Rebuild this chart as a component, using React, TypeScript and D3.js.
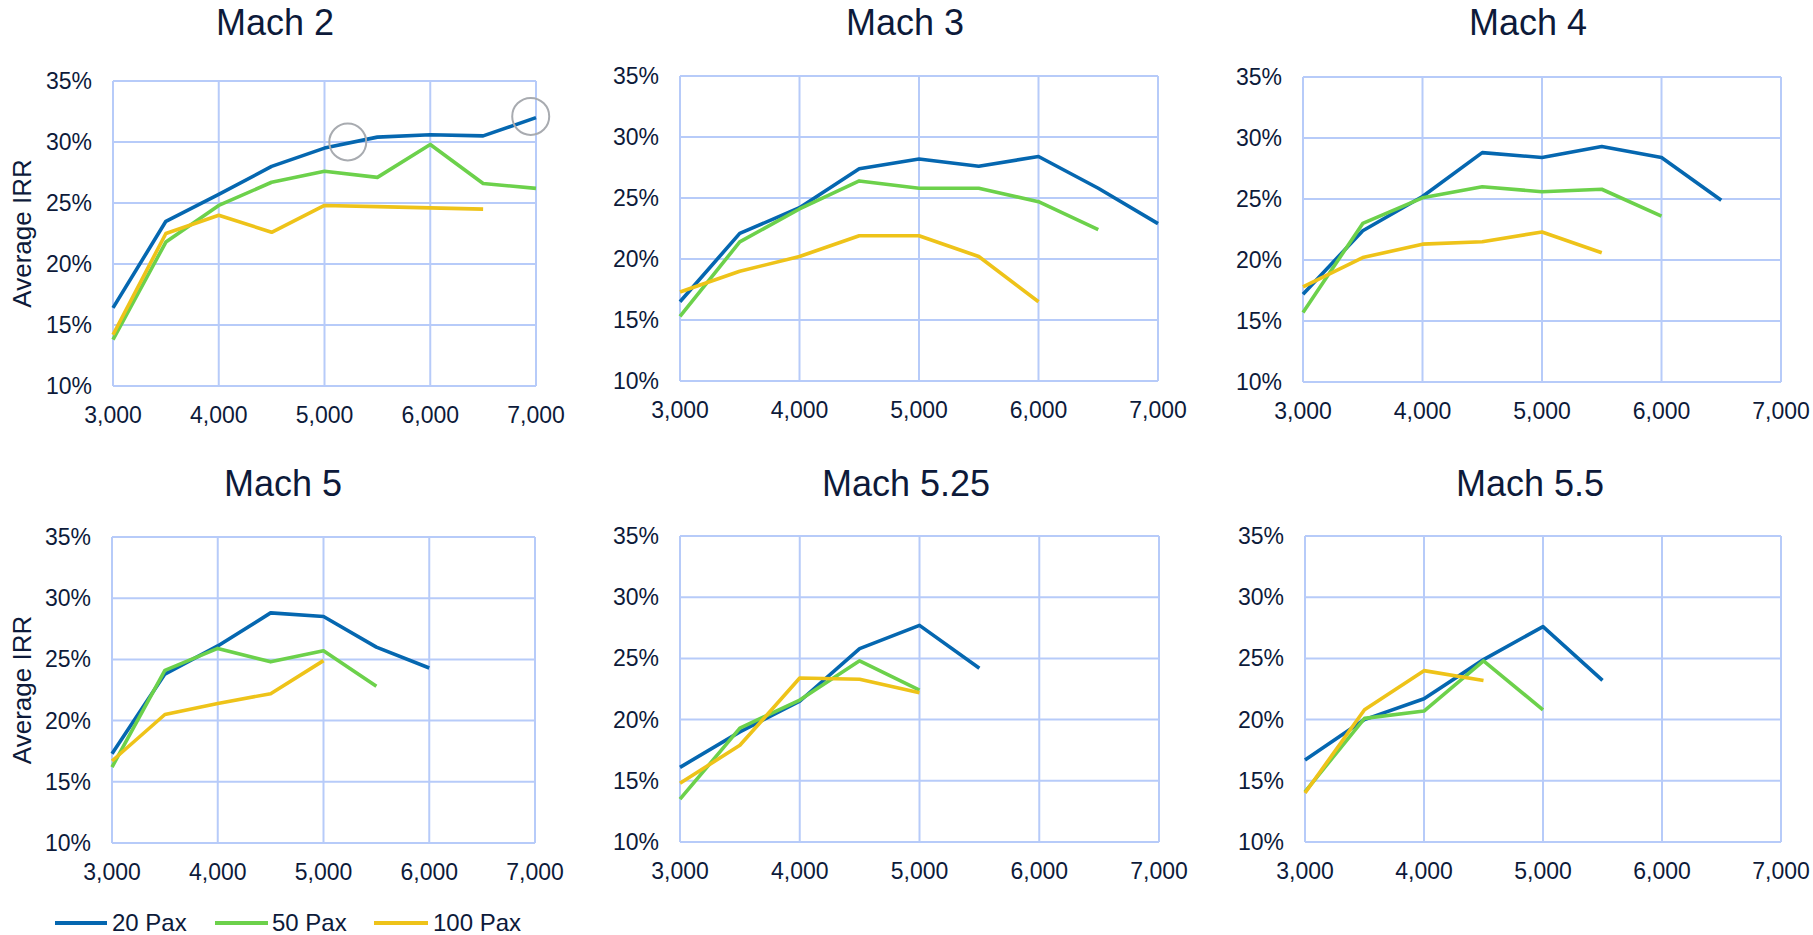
import React from "react";
import * as d3 from "d3";

// ---- data ----
const distances = [3000, 3500, 4000, 4500, 5000, 5500, 6000, 6500, 7000];
const xTicks = [3000, 4000, 5000, 6000, 7000];
const yTicks = [0.10, 0.15, 0.20, 0.25, 0.30, 0.35];
const seriesNames = ["20 Pax", "50 Pax", "100 Pax"];
const panelTitles = ["Mach 2", "Mach 3", "Mach 4", "Mach 5", "Mach 5.25", "Mach 5.5"];

const mach2_20 = [16.4, 23.5, 25.7, 28.0, 29.5, 30.4, 30.6, 30.5, 32.0];
const mach2_50 = [13.8, 21.8, 24.8, 26.7, 27.6, 27.1, 29.8, 26.6, 26.2];
const mach2_100 = [14.2, 22.5, 24.0, 22.6, 24.8, 24.7, 24.6, 24.5];

const mach3_20 = [16.5, 22.1, 24.2, 27.4, 28.2, 27.6, 28.4, 25.8, 22.9];
const mach3_50 = [15.3, 21.4, 24.1, 26.4, 25.8, 25.8, 24.7, 22.4];
const mach3_100 = [17.3, 19.0, 20.2, 21.9, 21.9, 20.2, 16.5];

const mach4_20 = [17.2, 22.4, 25.2, 28.8, 28.4, 29.3, 28.4, 24.9];
const mach4_50 = [15.7, 23.0, 25.1, 26.0, 25.6, 25.8, 23.6];
const mach4_100 = [17.8, 20.2, 21.3, 21.5, 22.3, 20.6];

const mach5_20 = [17.3, 23.8, 26.1, 28.8, 28.5, 26.0, 24.3];
const mach5_50 = [16.2, 24.1, 25.9, 24.8, 25.7, 22.8];
const mach5_100 = [16.7, 20.5, 21.4, 22.2, 24.9];

const mach525_20 = [16.1, 19.0, 21.5, 25.8, 27.7, 24.2];
const mach525_50 = [13.5, 19.3, 21.6, 24.8, 22.4];
const mach525_100 = [14.8, 17.9, 23.4, 23.3, 22.2];

const mach55_20 = [16.7, 20.0, 21.7, 24.9, 27.6, 23.2];
const mach55_50 = [14.1, 20.1, 20.7, 24.8, 20.8];
const mach55_100 = [14.0, 20.8, 24.0, 23.2];

const panelSeries = [
  [mach2_20, mach2_50, mach2_100],
  [mach3_20, mach3_50, mach3_100],
  [mach4_20, mach4_50, mach4_100],
  [mach5_20, mach5_50, mach5_100],
  [mach525_20, mach525_50, mach525_100],
  [mach55_20, mach55_50, mach55_100],
];

// annotation circles on Mach 2 (data coords)
const circleMarks = [
  { x: 5220, y: 0.30 },
  { x: 6950, y: 0.321 },
];

// ---- styles / layout ----
const colors = ["#0567b0", "#6cd14b", "#eec319"];
const gridColor = "#b7cbf9";
const textColor = "#0d1a3a";
const FONT = "'Liberation Sans', Arial, Helvetica, sans-serif";

const panels = [
  { x0: 113, x1: 536, y0: 81, y1: 386, tx: 275, ty: 35, ylabel: true },
  { x0: 680, x1: 1158, y0: 76, y1: 381, tx: 905, ty: 35, ylabel: false },
  { x0: 1303, x1: 1781, y0: 77, y1: 382, tx: 1528, ty: 35, ylabel: false },
  { x0: 112, x1: 535, y0: 537, y1: 843, tx: 283, ty: 496, ylabel: true },
  { x0: 680, x1: 1159, y0: 536, y1: 842, tx: 906, ty: 496, ylabel: false },
  { x0: 1305, x1: 1781, y0: 536, y1: 842, tx: 1530, ty: 496, ylabel: false },
];

const legendItems = [
  { lx0: 55, lx1: 107, tx: 112 },
  { lx0: 215, lx1: 268, tx: 272 },
  { lx0: 374, lx1: 428, tx: 433 },
];

function Panel({ idx }: { idx: number }) {
  const p = panels[idx];
  const x = d3.scaleLinear().domain([3000, 7000]).range([p.x0, p.x1]);
  const y = d3.scaleLinear().domain([0.10, 0.35]).range([p.y1, p.y0]);
  const fmtX = d3.format(",");
  const fmtY = d3.format(".0%");
  const line = d3
    .line<number>()
    .x((_, i) => x(distances[i]))
    .y((v) => y(v / 100));
  return (
    <g>
      {yTicks.map((t) => (
        <line key={"h" + t} x1={p.x0} x2={p.x1} y1={y(t)} y2={y(t)} stroke={gridColor} strokeWidth={2} />
      ))}
      {xTicks.map((t) => (
        <line key={"v" + t} x1={x(t)} x2={x(t)} y1={p.y0} y2={p.y1} stroke={gridColor} strokeWidth={2} />
      ))}
      {yTicks.map((t) => (
        <text key={"yl" + t} x={p.x0 - 21} y={y(t) + 8} textAnchor="end" fontSize={23} fill={textColor} fontFamily={FONT}>
          {fmtY(t)}
        </text>
      ))}
      {xTicks.map((t) => (
        <text key={"xl" + t} x={x(t)} y={p.y1 + 37} textAnchor="middle" fontSize={23} fill={textColor} fontFamily={FONT}>
          {fmtX(t)}
        </text>
      ))}
      {panelSeries[idx].map((s, si) => (
        <path key={"s" + si} d={line(s) || ""} fill="none" stroke={colors[si]} strokeWidth={3.6} strokeLinejoin="round" />
      ))}
      <text x={p.tx} y={p.ty} textAnchor="middle" fontSize={36} fill={textColor} fontFamily={FONT}>
        {panelTitles[idx]}
      </text>
      {p.ylabel && (
        <text
          transform={`translate(${31},${(p.y0 + p.y1) / 2}) rotate(-90)`}
          textAnchor="middle"
          fontSize={26}
          fill={textColor}
          fontFamily={FONT}
        >
          Average IRR
        </text>
      )}
      {idx === 0 &&
        circleMarks.map((c, ci) => (
          <circle key={"c" + ci} cx={x(c.x)} cy={y(c.y)} r={18.5} fill="none" stroke="#a8abb0" strokeWidth={2} />
        ))}
    </g>
  );
}

export default function App() {
  return (
    <svg
      width={1813}
      height={935}
      style={{ position: "absolute", left: 0, top: 0, background: "#fff" }}
    >
      <rect width={1813} height={935} fill="#fff" />
      {panels.map((_, i) => (
        <Panel key={i} idx={i} />
      ))}
      {legendItems.map((l, i) => (
        <g key={"lg" + i}>
          <line x1={l.lx0} x2={l.lx1} y1={923} y2={923} stroke={colors[i]} strokeWidth={4} />
          <text x={l.tx} y={931} fontSize={24} fill={textColor} fontFamily={FONT}>
            {seriesNames[i]}
          </text>
        </g>
      ))}
    </svg>
  );
}
